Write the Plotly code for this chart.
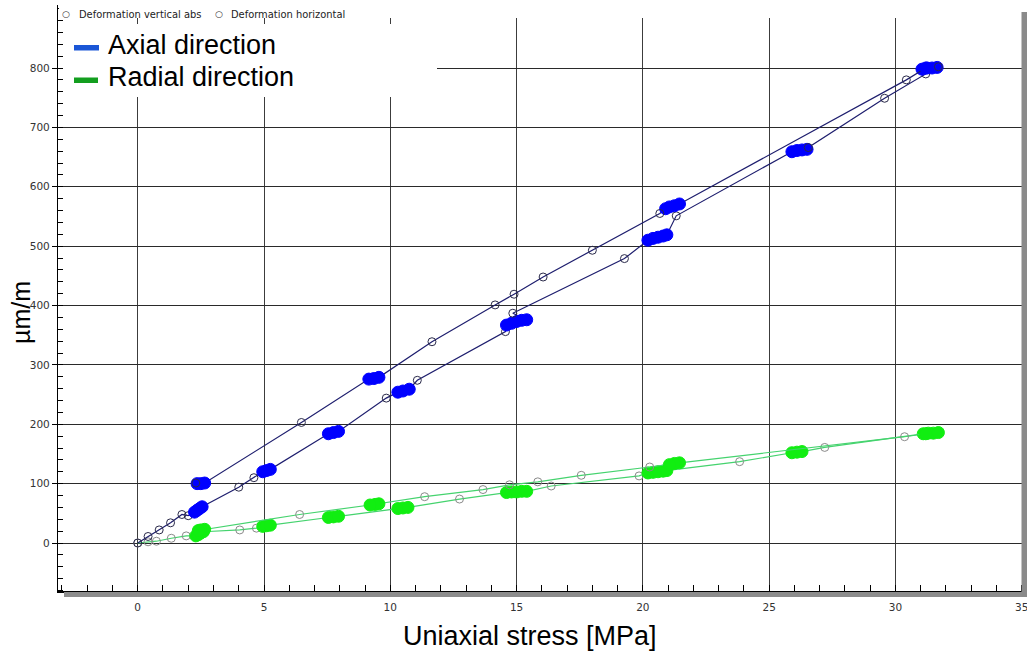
import plotly.graph_objects as go

# ---------------- data ----------------
# Axial direction, loading branch (lower blue line); hold = 1 marks dwell points
axial_load_stress = [0.0, 0.41, 0.85, 1.3, 1.75, 2.0,
                     2.25, 2.35, 2.45, 2.55,
                     4.0, 4.6,
                     4.95, 5.1, 5.25,
                     7.55, 7.75, 7.95,
                     9.84,
                     10.3, 10.5, 10.75,
                     11.07, 14.56,
                     14.6, 14.8, 15.0, 15.2, 15.4,
                     14.85, 19.27,
                     20.2, 20.4, 20.6, 20.8, 20.95,
                     21.32,
                     25.9, 26.1, 26.3, 26.5,
                     26.55, 29.57, 31.2,
                     31.05, 31.25, 31.45, 31.65,
                     31.7]
axial_load_strain = [0, 11, 22, 34, 48, 46,
                     52, 55, 58, 61,
                     94, 110,
                     120, 122, 124,
                     184, 186, 188,
                     244,
                     254, 256, 259,
                     274, 356,
                     367, 370, 373, 375, 376,
                     387, 479,
                     510, 513, 515, 517, 519,
                     551,
                     659, 661, 662, 663,
                     666, 749, 790,
                     798, 800, 800, 801,
                     802]
axial_load_hold = [0, 0, 0, 0, 0, 0,
                   1, 1, 1, 1,
                   0, 0,
                   1, 1, 1,
                   1, 1, 1,
                   0,
                   1, 1, 1,
                   0, 0,
                   1, 1, 1, 1, 1,
                   0, 0,
                   1, 1, 1, 1, 1,
                   0,
                   1, 1, 1, 1,
                   0, 0, 0,
                   1, 1, 1, 1,
                   0]

# Axial direction, unloading branch (upper blue line)
axial_unload_stress = [31.2, 30.43, 21.45, 21.25, 21.05, 20.9, 20.67, 18.0, 16.05,
                       14.9, 14.15, 11.65, 9.55, 9.35, 9.15, 6.48,
                       2.65, 2.5, 2.35, 2.3]
axial_unload_strain = [800, 780, 571, 568, 566, 563, 555, 493, 448,
                       419, 401, 339, 279, 277, 276, 203,
                       101, 100, 100, 101]
axial_unload_hold = [1, 0, 1, 1, 1, 1, 0, 0, 0,
                     0, 0, 0, 1, 1, 1, 0,
                     1, 1, 1, 0]

# Radial direction, loading branch (lower green line)
radial_load_stress = [0.0, 0.41, 0.74, 1.33, 1.92,
                      2.3, 2.4, 2.5, 2.6,
                      4.04, 4.7,
                      4.95, 5.1, 5.25,
                      7.55, 7.75, 7.95,
                      10.3, 10.5, 10.7,
                      12.74,
                      14.6, 14.8, 15.0, 15.2, 15.4,
                      16.37, 19.85,
                      20.2, 20.4, 20.6, 20.8, 20.95,
                      23.83,
                      25.9, 26.1, 26.3,
                      27.2,
                      31.1, 31.3, 31.5, 31.7]
radial_load_strain = [0, 2, 3, 8, 12,
                      12, 14, 17, 19,
                      22, 25,
                      28, 29, 30,
                      43, 44, 45,
                      58, 59, 60,
                      74,
                      85, 86, 86, 87, 87,
                      96, 113,
                      118, 119, 120, 121, 122,
                      137,
                      152, 153, 154,
                      161,
                      184, 185, 185, 186]
radial_load_hold = [0, 0, 0, 0, 0,
                    1, 1, 1, 1,
                    0, 0,
                    1, 1, 1,
                    1, 1, 1,
                    1, 1, 1,
                    0,
                    1, 1, 1, 1, 1,
                    0, 0,
                    1, 1, 1, 1, 1,
                    0,
                    1, 1, 1,
                    0,
                    1, 1, 1, 1]

# Radial direction, unloading branch (upper green line)
radial_unload_stress = [31.2, 30.36, 21.45, 21.25, 21.05, 20.27, 17.56, 15.84,
                        14.72, 13.67, 11.36, 9.55, 9.4, 9.2, 6.41,
                        2.65, 2.5, 2.4]
radial_unload_strain = [184, 179, 135, 134, 132, 128, 114, 103,
                        98, 90, 78, 66, 65, 64, 48,
                        23, 22, 21]
radial_unload_hold = [1, 0, 1, 1, 1, 0, 0, 0,
                      0, 0, 0, 1, 1, 1, 0,
                      1, 1, 1]

x_tick_vals = [0, 5, 10, 15, 20, 25, 30, 35]
y_tick_vals = [0, 100, 200, 300, 400, 500, 600, 700, 800]

x_title = "Uniaxial stress [MPa]"
y_title = "µm/m"
legend_small = ["Deformation vertical abs", "Deformation horizontal"]
legend_big = ["Axial direction", "Radial direction"]

# ---------------- styling ----------------
W, H = 1027, 656
ML, MR, MT, MB = 58, 5, 5, 65

def px(p):
    return (p - ML) / (W - ML - MR)

def py(q):
    return (H - MB - q) / (H - MT - MB)

AX_LINE = "#1e1e6e"
AX_FILL = "#0000ff"
AX_OPEN = "#2a2a4a"
RA_LINE = "#45d36e"
RA_FILL = "#11ee11"
RA_OPEN = "#8a8a8a"


def branch(xs, ys, hold, line_col, fill_col, open_col):
    symbols = ["circle" if h else "circle-open" for h in hold]
    colors = [fill_col if h else open_col for h in hold]
    sizes = [12 if h else 8 for h in hold]
    return go.Scatter(
        x=xs, y=ys, mode="lines+markers",
        line=dict(color=line_col, width=1.2),
        marker=dict(symbol=symbols, color=colors, size=sizes, opacity=1,
                    line=dict(width=1, color=colors)),
        showlegend=False, hoverinfo="skip",
    )


fig = go.Figure()
fig.add_trace(branch(radial_load_stress, radial_load_strain, radial_load_hold,
                     RA_LINE, RA_FILL, RA_OPEN))
fig.add_trace(branch(radial_unload_stress, radial_unload_strain, radial_unload_hold,
                     RA_LINE, RA_FILL, RA_OPEN))
fig.add_trace(branch(axial_load_stress, axial_load_strain, axial_load_hold,
                     AX_LINE, AX_FILL, AX_OPEN))
fig.add_trace(branch(axial_unload_stress, axial_unload_strain, axial_unload_hold,
                     AX_LINE, AX_FILL, AX_OPEN))

tick_font = dict(family="DejaVu Sans", size=10.5, color="#333333")

fig.update_layout(
    width=W, height=H,
    margin=dict(l=ML, r=MR, t=MT, b=MB, autoexpand=False),
    paper_bgcolor="white", plot_bgcolor="white",
    showlegend=False,
    xaxis=dict(
        range=[-3.156, 35.01], tickvals=x_tick_vals,
        showgrid=True, gridcolor="#3c3c3c", gridwidth=1,
        zeroline=False, showline=True, linecolor="black", linewidth=1.5,
        ticks="", ticklabelstandoff=6, tickfont=tick_font,
        ticklabeloverflow="allow",
        minor=dict(dtick=1, ticks="inside", ticklen=6, tickcolor="black",
                   showgrid=False),
    ),
    yaxis=dict(
        range=[-80.84, 906.1], tickvals=y_tick_vals,
        showgrid=True, gridcolor="#2a2a2a", gridwidth=1,
        zeroline=False, showline=True, linecolor="black", linewidth=1.2,
        ticks="outside", ticklen=5, tickcolor="black", tickfont=tick_font,
        minor=dict(dtick=20, ticks="inside", ticklen=5, tickcolor="black",
                   showgrid=False),
    ),
)

shapes = [
    # white strip at the top (small legend row)
    dict(type="rect", xref="paper", yref="paper", x0=px(59), x1=px(1021),
         y0=py(18), y1=py(4), fillcolor="white", line=dict(width=0), layer="above"),
    # white box behind big legend
    dict(type="rect", xref="paper", yref="paper", x0=px(63), x1=px(437),
         y0=py(97), y1=py(24), fillcolor="white", line=dict(width=0), layer="above"),
    # legend colour bars
    dict(type="rect", xref="paper", yref="paper", x0=px(74), x1=px(99),
         y0=py(50.5), y1=py(45), fillcolor="#1a56d6", line=dict(width=0), layer="above"),
    dict(type="rect", xref="paper", yref="paper", x0=px(74), x1=px(98),
         y0=py(83), y1=py(77.5), fillcolor="#139e1f", line=dict(width=0), layer="above"),
    # grey band below x axis
    dict(type="rect", xref="paper", yref="paper", x0=px(64), x1=px(1022),
         y0=py(597), y1=py(592), fillcolor="#8c8c8c", line=dict(width=0), layer="above"),
    # grey right border
    dict(type="rect", xref="paper", yref="paper", x0=px(1021.5), x1=px(1027),
         y0=py(597), y1=py(12), fillcolor="#8a8a8a", line=dict(width=0), layer="above"),
]
fig.update_layout(shapes=shapes)

ann = []
small_font = dict(family="DejaVu Sans Condensed, DejaVu Sans", size=11, color="#222222")
for gx, tx, label in [(65.5, 76.5, legend_small[0]), (218.5, 229, legend_small[1])]:
    ann.append(dict(xref="paper", yref="paper", x=px(gx), y=py(13.5), text="○",
                    showarrow=False, xanchor="center", yanchor="middle",
                    font=dict(family="DejaVu Sans", size=9, color="#333333")))
    ann.append(dict(xref="paper", yref="paper", x=px(tx), y=py(14), text=label,
                    showarrow=False, xanchor="left", yanchor="middle", font=small_font))

big_font = dict(family="Liberation Sans, Arial", size=27, color="black")
ann.append(dict(xref="paper", yref="paper", x=px(106), y=py(45), text=legend_big[0],
                showarrow=False, xanchor="left", yanchor="middle", font=big_font))
ann.append(dict(xref="paper", yref="paper", x=px(106), y=py(77), text=legend_big[1],
                showarrow=False, xanchor="left", yanchor="middle", font=big_font))

ann.append(dict(xref="paper", yref="paper", x=px(530), y=py(636), text=x_title,
                showarrow=False, xanchor="center", yanchor="middle",
                font=dict(family="Liberation Sans, Arial", size=27, color="black")))
ann.append(dict(xref="paper", yref="paper", x=px(21), y=py(313), text=y_title,
                showarrow=False, xanchor="center", yanchor="middle", textangle=-90,
                font=dict(family="Liberation Sans, Arial", size=25, color="black")))
fig.update_layout(annotations=ann)

fig.write_html("out.html", config={"displayModeBar": False},
               post_script="document.body.style.margin='0';")
